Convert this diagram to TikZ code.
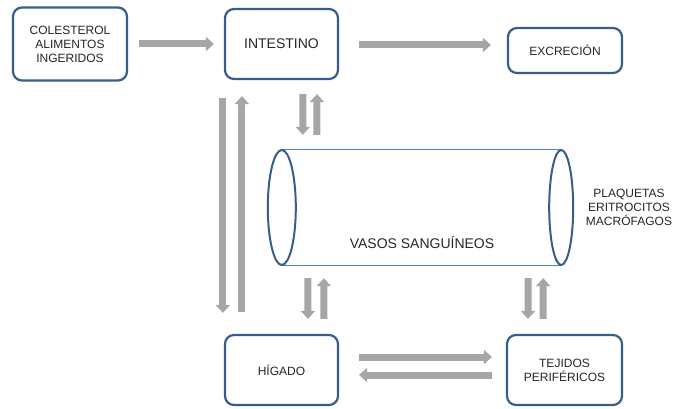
\documentclass[tikz,border=0pt]{standalone}
\usepackage{fontspec}
\setmainfont{Liberation Sans}
\usepackage{tikz}
\usetikzlibrary{calc}
\usetikzlibrary{arrows.meta}
\definecolor{azulcaja}{HTML}{385D8A}
\definecolor{azulvaso}{HTML}{4F81BD}
\definecolor{grisflecha}{HTML}{A6A6A6}
\definecolor{gristexto}{HTML}{262626}
\tikzset{
  caja/.style={draw=azulcaja, line width=2.2pt, rounded corners=9pt, fill=white,
    text=gristexto, align=center, inner sep=0pt, font=\fontsize{12}{14}\selectfont},
  flecha/.style={draw=grisflecha, line width=7pt, -{Triangle[width=14pt,length=8pt]}},
  borde/.style={draw=azulvaso, line width=1.2pt},
  tapa/.style={draw=azulcaja, line width=2pt},
  rotulo/.style={text=gristexto, align=center, inner sep=0pt, font=\fontsize{12}{14}\selectfont}
}

\begin{document}
\begin{tikzpicture}[x=1pt, y=-1pt]
            \useasboundingbox (0,0) rectangle (673,409);
            % cajas
            \node[caja, minimum width=114pt, minimum height=73pt] (colesterol) at (70,44) {COLESTEROL\\ALIMENTOS\\INGERIDOS};
            \node[caja, minimum width=113pt, minimum height=70pt, font=\fontsize{14}{16}\selectfont] (intestino) at (281.5,44) {INTESTINO};
            \node[caja, minimum width=114pt, minimum height=45pt] (excrecion) at (565,50.5) {EXCRECIÓN};
            \node[caja, minimum width=113pt, minimum height=70pt] (higado) at (281.5,370) {HÍGADO};
            \node[caja, minimum width=115pt, minimum height=70pt] (tejidos) at (564.5,370) {TEJIDOS\\PERIFÉRICOS};
            % vaso sanguineo
            \node[minimum width=279pt, minimum height=115pt, inner sep=0pt] (vasos) at (421.5,207.5) {};
            \draw[borde] (vasos.north west) -- (vasos.north east);
            \draw[borde] (vasos.south west) -- (vasos.south east);
            \draw[tapa] (vasos.west) ellipse [x radius=14pt, y radius=57.5pt];
            \draw[tapa] (vasos.east) ellipse [x radius=12pt, y radius=57.5pt];
            \node[rotulo, font=\fontsize{14}{16}\selectfont] (vasostexto) at (422,242) {VASOS SANGUÍNEOS};
            \node[rotulo] (celulas) at (629,207) {PLAQUETAS\\ERITROCITOS\\MACRÓFAGOS};
            % fila de arriba
            \draw[flecha] ($(colesterol.east)+(11,0)$) -- ($(intestino.west)+(-10,0)$);
            \draw[flecha] ($(intestino.east)+(20,1)$) -- ($(excrecion.west |- intestino.east)+(-16,1)$);
            % intestino - higado
            \draw[flecha] ($(intestino.south west)+(-1,18)$) -- ($(higado.north west)+(-1,-21)$);
            \draw[flecha] ($(higado.north west)+(18,-22)$) -- ($(intestino.south west)+(18,16)$);
            % intestino - vasos
            \draw[flecha] ($(intestino.south)+(21.5,14)$) -- ($(vasos.north west)+(21,-15)$);
            \draw[flecha] ($(vasos.north west)+(35,-15)$) -- ($(intestino.south)+(35.5,14)$);
            % vasos - higado
            \draw[flecha] ($(vasos.south west)+(26,13)$) -- ($(higado.north)+(26.5,-15)$);
            \draw[flecha] ($(higado.north)+(42.5,-15)$) -- ($(vasos.south west)+(42,13)$);
            % vasos - tejidos
            \draw[flecha] ($(vasos.south east)+(-33,13)$) -- ($(tejidos.north)+(-36.5,-15)$);
            \draw[flecha] ($(tejidos.north)+(-21.5,-15)$) -- ($(vasos.south east)+(-18,13)$);
            % higado - tejidos
            \draw[flecha] ($(higado.east)+(20,-13)$) -- ($(tejidos.west)+(-14,-13)$);
            \draw[flecha] ($(tejidos.west)+(-14,5)$) -- ($(higado.east)+(20,5)$);
        \end{tikzpicture}
\end{document}
